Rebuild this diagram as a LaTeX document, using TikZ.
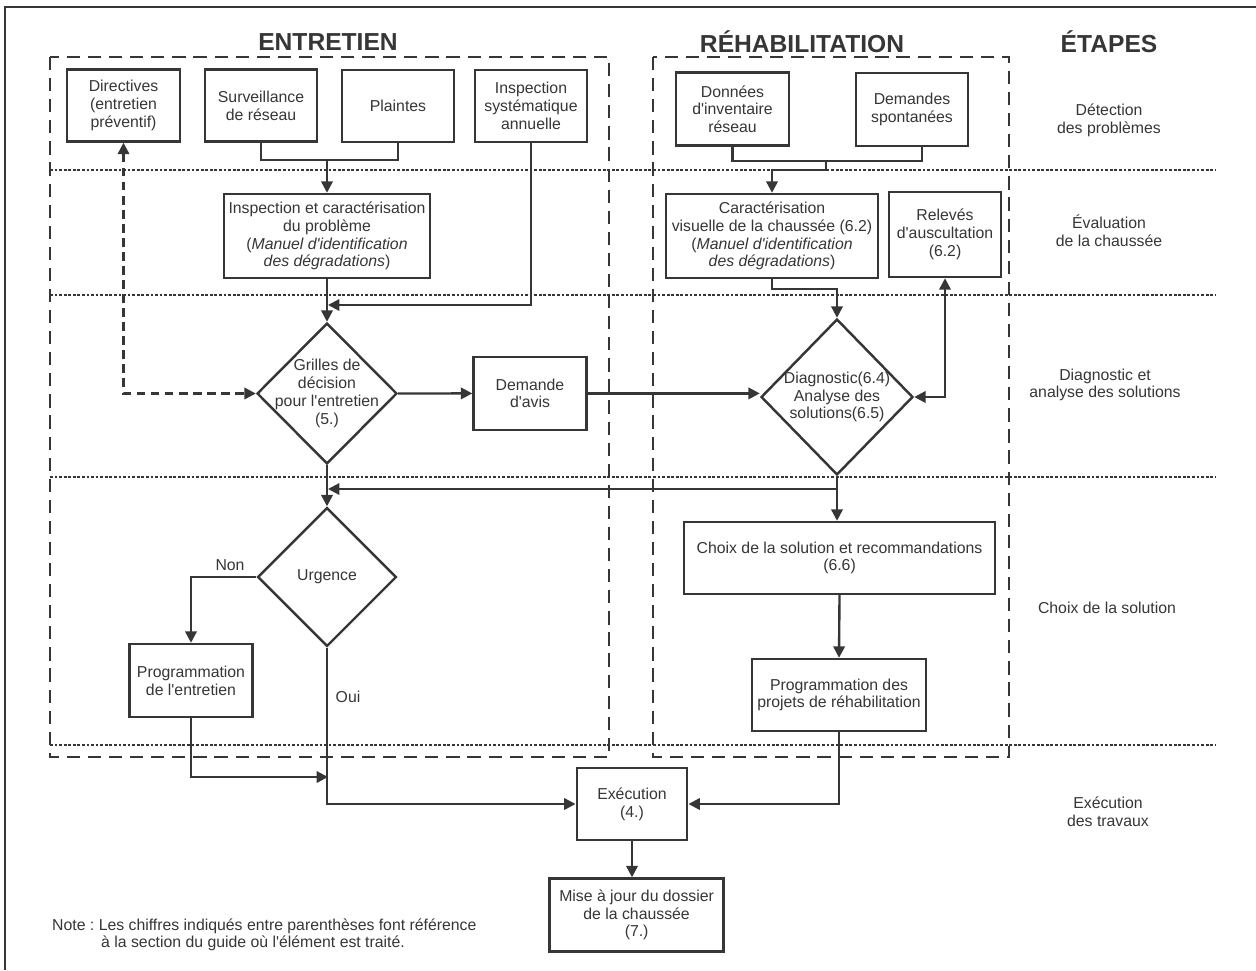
\documentclass[tikz,border=0pt]{standalone}
\usepackage{fontspec}
\setmainfont{Liberation Sans}
\usetikzlibrary{shapes.geometric,arrows.meta,calc}
\definecolor{ink}{HTML}{363636}
\newcommand{\fs}{\fontsize{9}{10.1}\selectfont}
\newcommand{\q}{\textquotesingle}
\frenchspacing
\begin{document}
\begin{tikzpicture}[x=0.02cm,y=-0.02cm,
  box/.style={draw=ink, line width=1.4pt, fill=white, align=center, inner sep=0pt, text=ink, font=\fs},
  dia/.style={diamond, draw=ink, line width=1.4pt, fill=white, inner sep=0pt, aspect=1},
  lab/.style={font=\fs, text=ink, align=center},
  arr/.style={draw=ink, line width=1.35pt, -{Triangle[length=6.5pt,width=6.5pt]}},
  dbl/.style={draw=ink, line width=1.35pt, {Triangle[length=6.5pt,width=6.5pt]}-{Triangle[length=6.5pt,width=6.5pt]}},
  plain/.style={draw=ink, line width=1.35pt},
  grp/.style={draw=ink, line width=1.1pt, dash pattern=on 7.5pt off 4.5pt},
  sep/.style={draw=ink, line width=0.8pt, dash pattern=on 1.6pt off 1pt},
  head/.style={font=\bfseries\fontsize{14}{16}\selectfont, text=ink}]
\useasboundingbox (0,0) rectangle (1256,970);
% frame
\draw[ink, line width=1.4pt] (5,970) -- (5,7) -- (1256,7);
% separators
\foreach \yy in {170,295,477,745} \draw[sep] (50,\yy) -- (1215,\yy);
% groups
\draw[grp] (50,57) rectangle (609,757);
\draw[grp] (653,57) rectangle (1009,757);
% headings
\node[head] (hE) at (328,42) {ENTRETIEN};
\node[head] (hR) at (802,42) {RÉHABILITATION};
\node[head] (hT) at (1109,42) {ÉTAPES};
% stage labels
\node[lab] (s1) at (1109,120) {Détection\\des problèmes};
\node[lab] (s2) at (1109,231) {Évaluation\\de la chaussée};
\node[lab] (s3) at (1105,385) {Diagnostic et\\analyse des solutions};
\node[lab] (s4) at (1107,608) {Choix de la solution};
\node[lab] (s5) at (1108,812) {Exécution\\des travaux};
% boxes
\node[box, minimum width=2.26cm, minimum height=1.44cm] (dir) at (123.5,105.5) {Directives\\(entretien\\préventif)};
\node[box, minimum width=2.24cm, minimum height=1.44cm] (surv) at (261,105.5) {Surveillance\\de réseau};
\node[box, minimum width=2.24cm, minimum height=1.44cm] (plai) at (398,106) {Plaintes};
\node[box, minimum width=2.24cm, minimum height=1.44cm] (insys) at (531,106) {Inspection\\systématique\\annuelle};
\node[box, minimum width=2.26cm, minimum height=1.46cm] (donn) at (732.5,109) {Données\\d\q inventaire\\réseau};
\node[box, minimum width=2.24cm, minimum height=1.46cm] (dema) at (912,109.5) {Demandes\\spontanées};
\node[box, minimum width=4.12cm, minimum height=1.68cm] (insp) at (327,236) {Inspection et caractérisation\\du problème\\(\textit{Manuel d\q identification}\\\textit{des dégradations})};
\node[box, minimum width=4.24cm, minimum height=1.68cm] (cara) at (772,236) {Caractérisation\\visuelle de la chaussée (6.2)\\(\textit{Manuel d\q identification}\\\textit{des dégradations})};
\node[box, minimum width=2.24cm, minimum height=1.70cm] (rele) at (945,234.5) {Relevés\\d\q auscultation\\(6.2)};
\node[dia, minimum width=2.80cm, minimum height=2.82cm, label={[lab]center:Grilles de\\décision\\pour l\q entretien\\(5.)}] (gr) at (327,393.5) {};
\node[box, minimum width=2.26cm, minimum height=1.46cm] (davis) at (530,393.4) {Demande\\d\q avis};
\node[dia, minimum width=3.04cm, minimum height=3.12cm, label={[lab]center:Diagnostic(6.4)\\Analyse des\\solutions(6.5)}] (diag) at (837,397) {};
\node[dia, minimum width=2.78cm, minimum height=2.78cm, label={[lab]center:Urgence}] (urg) at (327,577) {};
\node[box, minimum width=2.46cm, minimum height=1.46cm] (progE) at (191,680.5) {Programmation\\de l\q entretien};
\node[box, minimum width=6.22cm, minimum height=1.44cm] (choix) at (839.5,558) {Choix de la solution et recommandations\\(6.6)};
\node[box, minimum width=3.48cm, minimum height=1.44cm] (progR) at (839,695) {Programmation des\\projets de réhabilitation};
\node[box, minimum width=2.21cm, minimum height=1.44cm] (exec) at (632,804) {Exécution\\(4.)};
\node[box, minimum width=3.48cm, minimum height=1.46cm] (maj) at (636.6,915) {Mise à jour du dossier\\de la chaussée\\(7.)};
% labels on connectors
\node[lab] (non) at (230,565) {Non};
\node[lab] (oui) at (348,697) {Oui};
% note
\node[lab, anchor=west] (note1) at (46,926) {Note : Les chiffres indiqués entre parenthèses font référence};
\node[lab, anchor=west] (note2) at (95,943) {à la section du guide où l\q élément est traité.};
% connectors: entretien
\coordinate (j1) at (327,160);
\draw[plain] (surv.south) |- (j1) -| (plai.south);
\draw[arr] (j1) -- (insp.north);
\draw[arr] (insp.south) -- (gr.north);
\coordinate (j2) at (328,305);
\draw[arr] (insys.south) |- (j2);
\draw[dbl, dash pattern=on 5pt off 3pt] (dir.south) |- (gr.west);
\draw[arr] (gr.east) -- (davis.west);
\draw[arr] (davis.east) -- (diag.west |- davis.east);
% connectors: rehabilitation
\coordinate (j3) at (826,161);
\draw[plain] (donn.south) |- (j3) -| ([xshift=0.2cm]dema.south);
\draw[arr] (j3) -- (826,170) -| (cara.north);
\draw[arr] (cara.south) |- (837,289) -- (diag.north);
\draw[dbl] (rele.south) |- (diag.east);
\coordinate (j4) at (328,489);
\draw[arr] (diag.south) |- (j4);
\draw[arr] (diag.south) -- (diag.south |- choix.north);
\draw[arr] (gr.south) -- (urg.north);
\draw[arr] (choix.south) -- (progR.north);
% connectors: urgence and execution
\draw[arr] (urg.west) -| (progE.north);
\draw[arr] (urg.south) |- (exec.west);
\coordinate (j5) at (328,777);
\draw[arr] (progE.south) |- (j5);
\draw[arr] (progR.south) |- (exec.east);
\draw[arr] (exec.south) -- (exec.south |- maj.north);
\end{tikzpicture}
\end{document}
